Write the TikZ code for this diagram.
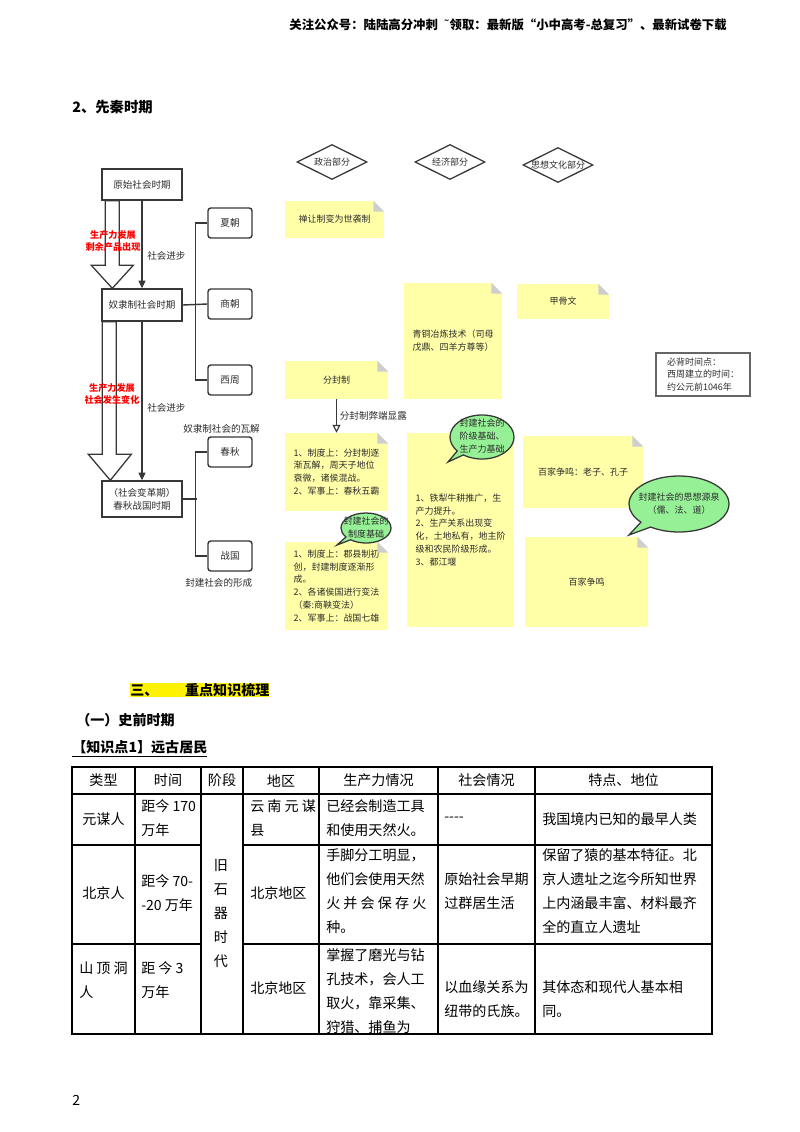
\documentclass[tikz,border=0pt]{standalone}
\usepackage{fontspec}
\setmainfont{Noto Sans CJK SC}
\newfontfamily\symfont{DejaVu Sans}
\usetikzlibrary{shapes.geometric,shapes.callouts,arrows.meta,calc,positioning}

\definecolor{noteyellow}{RGB}{255,255,168}
\definecolor{foldgrey}{RGB}{206,206,206}
\definecolor{bubblegreen}{RGB}{150,240,150}
\definecolor{linegrey}{RGB}{55,55,55}
\definecolor{darktext}{RGB}{45,45,45}

\newcommand{\pxu}{0.025cm}
\newcommand{\boxfont}{\fontsize{6.8}{9.5}\selectfont}
\newcommand{\notefont}{\fontsize{6.4}{9.2}\selectfont}
\newcommand{\redfont}{\bfseries\fontsize{6.5}{9}\selectfont}
\newcommand{\tablefont}{\fontsize{10}{17.07}\selectfont}
\newcommand{\headfont}{\bfseries\fontsize{10}{12}\selectfont}

% folded corner of a note
\newcommand{\dogear}[1]{%
    \fill [white] ([xshift=-11*\pxu]#1.north east) -- (#1.north east) -- ([yshift=-11*\pxu]#1.north east) -- cycle;
    \fill [foldgrey] ([xshift=-11*\pxu]#1.north east) -- ([xshift=-11*\pxu,yshift=-11*\pxu]#1.north east) -- ([yshift=-11*\pxu]#1.north east) -- cycle;}
% text that does not size its bubble
\newcommand{\bubbletext}[1]{\makebox[0pt]{\raisebox{-0.25em}[0pt][0pt]{\begin{tabular}{@{}c@{}}#1\end{tabular}}}}

\begin{document}
\begin{tikzpicture}[
    x = 0.025cm,
    y = -0.025cm,
    stage/.style = {
        rectangle,
        draw = linegrey,
        line width = 1pt,
        minimum width = 80*\pxu,
        minimum height = 31*\pxu,
        align = center,
        text = darktext,
        font = \boxfont
    },
    dynasty/.style = {
        rectangle,
        rounded corners = 2pt,
        draw = linegrey,
        line width = 1pt,
        minimum width = 44*\pxu,
        minimum height = 30*\pxu,
        text = darktext,
        font = \boxfont
    },
    part/.style = {
        diamond,
        draw = linegrey,
        line width = 0.9pt,
        minimum width = 70*\pxu,
        minimum height = 35*\pxu,
        inner sep = 0pt,
        text = darktext,
        font = \notefont
    },
    note/.style = {
        rectangle,
        fill = noteyellow,
        inner sep = 0pt,
        align = left,
        text = darktext,
        font = \notefont
    },
    bubble/.style = {
        ellipse callout,
        draw = linegrey,
        fill = bubblegreen,
        line width = 0.9pt,
        inner sep = 0pt,
        text = darktext,
        font = \notefont
    },
    timebox/.style = {
        rectangle,
        draw = black!60,
        line width = 1pt,
        minimum width = 94*\pxu,
        minimum height = 43*\pxu,
        align = left,
        text = darktext,
        font = \fontsize{6.4}{8.9}\selectfont
    },
    link/.style = {
        draw = linegrey,
        line width = 1pt
    },
    thinarrow/.style = {
        draw = linegrey,
        line width = 0.8pt,
        -{Triangle[length=5.5pt,width=5pt]}
    },
    openarrow/.style = {
        draw = linegrey,
        line width = 0.8pt,
        -{Triangle[open,length=5.5pt,width=5.5pt]}
    },
    fatarrow/.style = {
        draw = linegrey,
        fill = white,
        line width = 0.9pt
    },
    plain/.style = {
        inner sep = 0pt,
        text = darktext,
        font = \boxfont
    },
    redlabel/.style = {
        inner sep = 0pt,
        align = center,
        text = red,
        font = \redfont
    },
    heading/.style = {
        anchor = west,
        inner sep = 0pt,
        font = \headfont
    },
    cell/.style = {
        inner sep = 0pt,
        font = \tablefont
    },
    celltext/.style = {
        cell,
        anchor = west,
        align = left
    },
    grid/.style = {
        line width = 1.1pt,
        line cap = rect
    }
]

    \fill [white] (0,0) rectangle (800,1132);
    \useasboundingbox (0,0) rectangle (800,1132);

    % page head
    \node [anchor = east, inner sep = 0pt, font = \bfseries\fontsize{8.8}{10}\selectfont] (topline) at (727,25) {关注公众号：陆陆高分冲刺\ \ {\symfont\mdseries ˜}领取：最新版“小中高考-总复习”、最新试卷下载};
    \node [heading, font = \bfseries\fontsize{10.2}{12}\selectfont] (title) at (72,107) {2、先秦时期};

    % society stages (left column)
    \node [stage] (yuanshi) at (142,184.5) {原始社会时期};
    \node [stage, minimum height = 32*\pxu] (nuli) at (142,305) {奴隶制社会时期};
    \node [stage, minimum height = 36*\pxu] (biange) at (142,499) {（社会变革期）\\春秋战国时期};

    % dynasties
    \node [dynasty] (xia) at (230,223) {夏朝};
    \node [dynasty] (shang) at (230,304) {商朝};
    \node [dynasty] (xizhou) at (230,380) {西周};
    \node [dynasty] (chunqiu) at (230,452) {春秋};
    \node [dynasty] (zhanguo) at (230,556) {战国};

    % brackets
    \draw [link] (xia.west) -- ++(-12,0) |- (xizhou.west);
    \draw [link] (nuli.east) -- (shang.west);
    \draw [link] (chunqiu.west) -- ++(-12,0) |- (zhanguo.west);
    \draw [link] (biange.east) -- ++(14,0);

    % stage arrows
    \draw [fatarrow] ($(yuanshi.south west)+(4,0)$) -- ($(yuanshi.south west)+(18,0)$) -- ($(nuli.north west)+(18,-23)$) -- ($(nuli.north west)+(32,-23)$) -- ($(nuli.north west)+(11,0)$) -- ($(nuli.north west)+(-10,-23)$) -- ($(nuli.north west)+(4,-23)$) -- cycle;
    \draw [fatarrow] ($(nuli.south west)+(1,0)$) -- ($(nuli.south west)+(15,0)$) -- ($(biange.north west)+(15,-26)$) -- ($(biange.north west)+(30,-26)$) -- ($(biange.north west)+(9,0)$) -- ($(biange.north west)+(-13,-26)$) -- ($(biange.north west)+(1,-26)$) -- cycle;
    \draw [thinarrow] (yuanshi) -- (nuli);
    \draw [thinarrow] (nuli) -- (biange);

    \node [redlabel] (cause1) at (113,241) {生产力发展\\剩余产品出现};
    \node [redlabel] (cause2) at (112,394) {生产力发展\\社会发生变化};
    \node [plain, anchor = west] (jinbu1) at (147,256) {社会进步};
    \node [plain, anchor = west] (jinbu2) at (147,408) {社会进步};
    \node [plain, anchor = west] (wajie) at (183,429) {奴隶制社会的瓦解};
    \node [plain, anchor = west] (xingcheng) at (185,583) {封建社会的形成};

    % column heads
    \node [part] (zhengzhi) at (332,162) {\makebox[0pt]{政治部分}};
    \node [part] (jingji) at (450,162) {\makebox[0pt]{经济部分}};
    \node [part] (sixiang) at (558,165) {\makebox[0pt]{思想文化部分}};

    % notes
    \node [note, minimum width = 99*\pxu, minimum height = 37*\pxu] (chanrang) at (334.5,219.5) {禅让制变为世袭制};
    \node [note, minimum width = 103*\pxu, minimum height = 38*\pxu] (fenfeng) at (336.5,380) {分封制};
    \node [note, minimum width = 98*\pxu, minimum height = 116*\pxu] (qingtong) at (453,341) {青铜冶炼技术（司母\\戊鼎、四羊方尊等）};
    \node [note, minimum width = 92*\pxu, minimum height = 35*\pxu] (jiagu) at (563,301.5) {甲骨文};
    \node [note, minimum width = 103*\pxu, minimum height = 78*\pxu] (cqzhidu) at (336.5,472) {1、制度上：分封制逐\\渐瓦解，周天子地位\\衰微，诸侯混战。\\2、军事上：春秋五霸};
    \node [note, minimum width = 103*\pxu, minimum height = 88*\pxu] (zgzhidu) at (336.5,586) {1、制度上：郡县制初\\创，封建制度逐渐形\\成。\\2、各诸侯国进行变法\\（秦:商鞅变法）\\2、军事上：战国七雄};
    \node [note, minimum width = 107*\pxu, minimum height = 194*\pxu] (tieli) at (460.5,530) {1、铁犁牛耕推广，生\\产力提升。\\2、生产关系出现变\\化，土地私有，地主阶\\级和农民阶级形成。\\3、都江堰};
    \node [note, minimum width = 120*\pxu, minimum height = 72*\pxu] (laokong) at (583,472) {百家争鸣：老子、孔子};
    \node [note, minimum width = 123*\pxu, minimum height = 90*\pxu] (baijia) at (586.5,582) {百家争鸣};
    \foreach \n in {chanrang, fenfeng, qingtong, jiagu, cqzhidu, zgzhidu, tieli, laokong, baijia}
        \dogear{\n};

    \draw [openarrow] (fenfeng) -- node [right = 2pt, plain] {分封制弊端显露} (cqzhidu);

    \node [timebox] (keydate) at (703,374.5) {必背时间点：\\西周建立的时间：\\约公元前1046年};

    % bubbles
    \node [bubble, minimum width = 50*\pxu, minimum height = 30*\pxu, callout absolute pointer = {(337,545)}] (zhidujichu) at (366,528) {\bubbletext{封建社会的\\制度基础}};
    \node [bubble, minimum width = 64*\pxu, minimum height = 44*\pxu, callout absolute pointer = {(448,462)}] (jiejijichu) at (482,437) {\bubbletext{封建社会的\\阶级基础、\\生产力基础}};
    \node [bubble, minimum width = 100*\pxu, minimum height = 56*\pxu, callout absolute pointer = {(629,535)}] (yuanquan) at (679,504) {\bubbletext{封建社会的思想源泉\\（儒、法、道）}};

    % section heads
    \node [heading, fill = yellow] (sec3) at (130,690) {三、\hspace{19pt}重点知识梳理};
    \node [heading] (sec31) at (76,720) {（一）史前时期};
    \node [heading] (point1) at (72,749) {\underline{【知识点1】远古居民}};

    % table
    \draw [grid] (72,767) -- (712,767);
    \draw [grid] (72,794) -- (712,794);
    \foreach \y in {845,944} {
        \draw [grid] (72,\y) -- (201,\y);
        \draw [grid] (243,\y) -- (712,\y);
    }
    \draw [grid] (72,1034) -- (712,1034);
    \foreach \x in {72,135,201,243,319,438,535,712}
        \draw [grid] (\x,767) -- (\x,1034);

    \foreach \head/\cx [count=\i] in {类型/103.5, 时间/168, 阶段/222, 地区/281, 生产力情况/378.5, 社会情况/486.5, 特点、地位/623.5}
        \node [cell] (head\i) at (\cx,780.5) {\head};

    % row 1
    \node [cell] (yuanmou) at (103.5,819.5) {元谋人};
    \node [celltext] (time1) at (141,818) {距今 170\\万年};
    \node [celltext] (place1) at (250,818) {云 南 元 谋\\县};
    \node [celltext] (prod1) at (326,818) {已经会制造工具\\和使用天然火。};
    \node [celltext] (soc1) at (444,819.5) {{-}{-}{-}{-}};
    \node [celltext] (feat1) at (542,819.5) {我国境内已知的最早人类};

    % row 2
    \node [cell] (beijing) at (103.5,893) {北京人};
    \node [celltext] (time2) at (141,893) {距今 70-\\-20 万年};
    \node [cell, align = center] (jiushiqi) at (221,913) {旧\\石\\器\\时\\代};
    \node [celltext] (place2) at (250,893) {北京地区};
    \node [celltext] (prod2) at (326,891) {手脚分工明显，\\他们会使用天然\\火 并 会 保 存 火\\种。};
    \node [celltext] (soc2) at (444,891) {原始社会早期\\过群居生活};
    \node [celltext] (feat2) at (542,891) {保留了猿的基本特征。北\\京人遗址之迄今所知世界\\上内涵最丰富、材料最齐\\全的直立人遗址};

    % row 3
    \node [celltext] (shanding) at (79,980) {山 顶 洞\\人};
    \node [celltext] (time3) at (141,980) {距 今 3\\万年};
    \node [celltext] (place3) at (250,988) {北京地区};
    \node [celltext] (prod3) at (326,991) {掌握了磨光与钻\\孔技术，会人工\\取火，靠采集、\\狩猎、捕鱼为};
    \node [celltext] (soc3) at (444,999) {以血缘关系为\\纽带的氏族。};
    \node [celltext] (feat3) at (542,999) {其体态和现代人基本相\\同。};

    \node [cell, anchor = west] (pageno) at (72,1100) {2};

\end{tikzpicture}
\end{document}
